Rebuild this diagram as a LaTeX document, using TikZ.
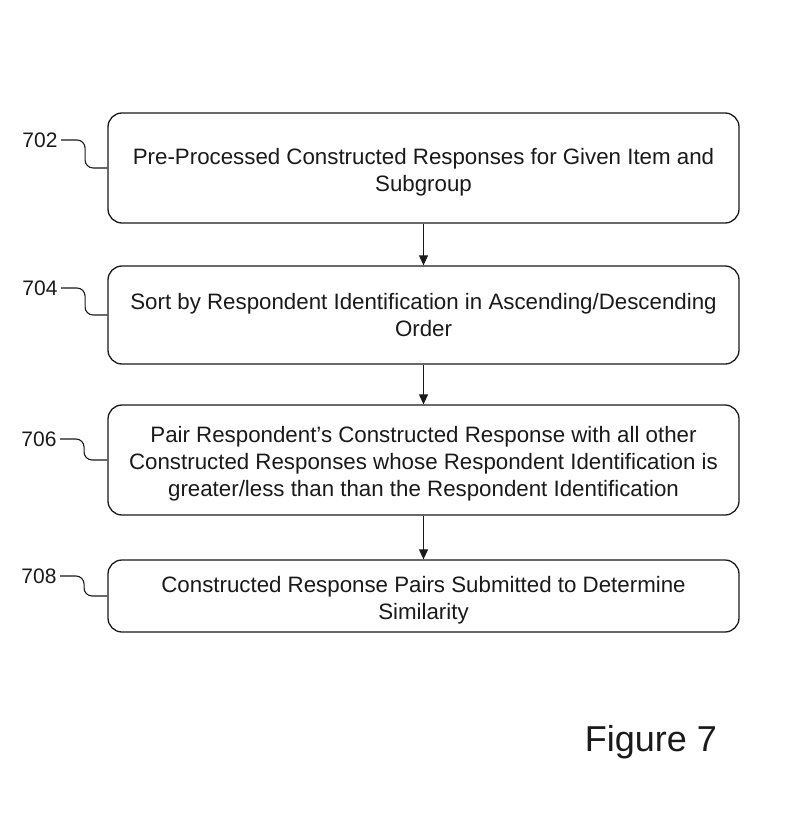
\documentclass[tikz,border=0pt]{standalone}
\usepackage{fontspec}
\setmainfont{Liberation Sans}
\usetikzlibrary{arrows.meta,calc,positioning}
\definecolor{pfink}{HTML}{1A1A1A}
\newcommand{\pfdrop}{\rule{0pt}{24pt}}
\tikzset{
  pf text/.style={font=\fontsize{22}{27}\selectfont, text=pfink},
  pf step/.style={draw=pfink, line width=1.3pt, rounded corners=14pt, fill=white,
    minimum width=631pt, align=center, font=\fontsize{22.3}{27}\selectfont},
  pf arrow/.style={-{Triangle[length=10pt,width=9pt]}, line width=1.1pt, draw=pfink},
  pf hook/.style={draw=pfink, line width=1.1pt, rounded corners=8pt},
  pf num/.style={font=\fontsize{21}{24}\selectfont, text=pfink},
  pf fig/.style={font=\fontsize{36}{42}\selectfont, text=pfink}
}
\begin{document}
\begin{tikzpicture}[pf text, x=1pt, y=-1pt]
  \useasboundingbox (0,0) rectangle (788,837);

  \node[pf step, minimum height=110pt] (load) at (423.5,168) {\pfdrop Pre-Processed Constructed Responses for Given Item and\\Subgroup};
  \node[pf step, minimum height=98pt] (sort) at (423.5,315) {Sort by Respondent Identification in Ascending/Descending\\Order};
  \node[pf step, minimum height=110pt] (pair) at (423.5,460) {\pfdrop Pair Respondent's Constructed Response with all other\\Constructed Responses whose Respondent Identification is\\greater/less than than the Respondent Identification};
  \node[pf step, minimum height=72pt] (submit) at (423.5,596) {\pfdrop Constructed Response Pairs Submitted to Determine\\Similarity};

  \draw[pf arrow] (load) -- (sort);
  \draw[pf arrow] (sort) -- (pair);
  \draw[pf arrow] (pair) -- (submit);

  \node[pf num] (n702) at (40,140) {702};
  \node[pf num] (n704) at (40,288) {704};
  \node[pf num] (n706) at (39,439) {706};
  \node[pf num] (n708) at (39,576) {708};
  \draw[pf hook] (n702.east) -- ++(24,0) |- (load.west);
  \draw[pf hook] (n704.east) -- ++(24,0) |- (sort.west);
  \draw[pf hook] (n706.east) -- ++(24,0) |- (pair.west);
  \draw[pf hook] (n708.east) -- ++(24,0) |- (submit.west);

  \node[pf fig] (fig) at (651,742) {Figure 7};
\end{tikzpicture}
\end{document}
